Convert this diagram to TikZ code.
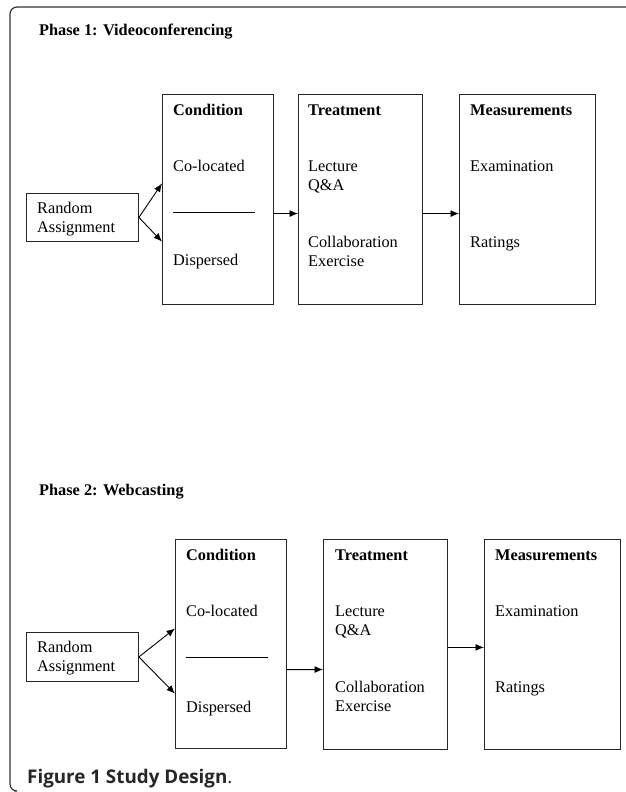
\documentclass[tikz,border=0pt]{standalone}
\usepackage{fontspec}
\setmainfont{Liberation Serif}
\newfontfamily\capfont{Open Sans}
\usetikzlibrary{calc,arrows.meta}
\begin{document}
\begin{tikzpicture}[x=1pt,y=-1pt,
  box/.style={draw=black!85,line width=0.9pt,inner sep=0pt,anchor=north west},
  txt/.style={anchor=base west,inner sep=0pt,font=\fontsize{16.3}{19}\selectfont,align=left},
  hdr/.style={txt,font=\fontsize{16.3}{19}\selectfont\bfseries},
  arr/.style={line width=0.9pt,-{Latex[length=8.5pt,width=7pt]}},
  sep/.style={line width=0.6pt}]
\useasboundingbox (0,0) rectangle (625,792);
\fill[white] (0,0) rectangle (625,792);
% frame
\draw[line width=1.2pt,black!80,rounded corners=7pt] (14,791) -- (10,791) -- (10,7) -- (626,7);

% ===== Phase 1 =====
\node[hdr] (p1) at (39,36) {Phase 1: Videoconferencing};
\node[box,minimum width=112pt,minimum height=48pt] (r1) at (26,193) {};
\node[box,minimum width=111pt,minimum height=210pt] (c1) at (162,94) {};
\node[box,minimum width=124pt,minimum height=210pt] (t1) at (298,94) {};
\node[box,minimum width=136pt,minimum height=210pt] (m1) at (459,94) {};
\node[txt] (r1a) at (37,232) {Random\\Assignment};
\node[hdr] (c1h) at (173,115) {Condition};
\node[txt] (c1a) at (173,171) {Co-located};
\coordinate (c1l) at (173,212);
\coordinate (c1r) at (255,212);
\draw[sep] (c1l) -- (c1r);
\node[txt] (c1b) at (173,265) {Dispersed};
\node[hdr] (t1h) at (308,115) {Treatment};
\node[txt] (t1a) at (308,190) {Lecture\\Q\&A};
\node[txt] (t1b) at (308,266) {Collaboration\\Exercise};
\node[hdr] (m1h) at (470,115) {Measurements};
\node[txt] (m1a) at (470,171) {Examination};
\node[txt] (m1b) at (470,247) {Ratings};
\draw[arr] (r1.east) -- ($(c1.north west)!0.424!(c1.south west)$);
\draw[arr] (r1.east) -- ($(c1.north west)!0.70!(c1.south west)$);
\draw[arr] ($(c1.north east)!0.567!(c1.south east)$) -- ($(t1.north west)!0.567!(t1.south west)$);
\draw[arr] ($(t1.north east)!0.567!(t1.south east)$) -- ($(m1.north west)!0.567!(m1.south west)$);

% ===== Phase 2 =====
\node[hdr] (p2) at (39,495) {Phase 2: Webcasting};
\node[box,minimum width=112pt,minimum height=49pt] (r2) at (26,632) {};
\node[box,minimum width=111pt,minimum height=209pt] (c2) at (175,539) {};
\node[box,minimum width=124pt,minimum height=210pt] (t2) at (323,539) {};
\node[box,minimum width=136pt,minimum height=210pt] (m2) at (484,539) {};
\node[txt] (r2a) at (37,671) {Random\\Assignment};
\node[hdr] (c2h) at (186,560) {Condition};
\node[txt] (c2a) at (186,616) {Co-located};
\coordinate (c2l) at (186,657);
\coordinate (c2r) at (268,657);
\draw[sep] (c2l) -- (c2r);
\node[txt] (c2b) at (186,712) {Dispersed};
\node[hdr] (t2h) at (335,560) {Treatment};
\node[txt] (t2a) at (335,635) {Lecture\\Q\&A};
\node[txt] (t2b) at (335,711) {Collaboration\\Exercise};
\node[hdr] (m2h) at (495,560) {Measurements};
\node[txt] (m2a) at (495,616) {Examination};
\node[txt] (m2b) at (495,692) {Ratings};
\draw[arr] (r2.east) -- ($(c2.north west)!0.426!(c2.south west)$);
\draw[arr] (r2.east) -- ($(c2.north west)!0.737!(c2.south west)$);
\draw[arr] ($(c2.north east)!0.622!(c2.south east)$) -- ($(t2.north west)!0.619!(t2.south west)$);
\draw[arr] ($(t2.north east)!0.514!(t2.south east)$) -- ($(m2.north west)!0.514!(m2.south west)$);

% caption
\node[anchor=base west,inner sep=0pt,font=\capfont\fontsize{18.8}{22}\selectfont,text=black!85] (cap) at (27,783) {\textbf{Figure 1 Study Design}.};
\end{tikzpicture}
\end{document}
